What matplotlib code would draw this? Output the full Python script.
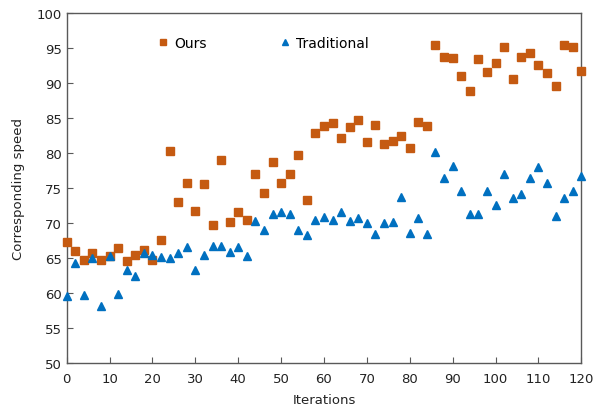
import matplotlib
matplotlib.use("Agg")
import matplotlib.pyplot as plt
import numpy as np

iterations = list(range(0, 121, 2))
ours = [67.3, 66.0, 64.8, 65.7, 64.7, 65.4, 66.5, 64.6, 65.5, 66.2,
        64.7, 67.6, 80.3, 73.1, 75.8, 71.7, 75.6, 69.7, 79.0, 70.2,
        71.6, 70.5, 77.0, 74.3, 78.8, 75.7, 77.1, 79.7, 73.3, 82.9,
        83.9, 84.3, 82.2, 83.8, 84.7, 81.6, 84.0, 81.3, 81.8, 82.5,
        80.8, 84.4, 83.9, 95.5, 93.7, 93.6, 91.0, 88.9, 93.5, 91.6,
        92.9, 95.1, 90.6, 93.7, 94.3, 92.6, 91.5, 89.6, 95.5, 95.1,
        91.7]
traditional = [59.7, 64.4, 59.8, 65.0, 58.2, 65.3, 59.9, 63.4, 62.5, 65.8,
               65.5, 65.2, 65.0, 65.7, 66.6, 63.3, 65.5, 66.8, 66.8, 65.9,
               66.6, 65.4, 70.3, 69.1, 71.4, 71.6, 71.3, 69.0, 68.4, 70.5,
               70.9, 70.5, 71.6, 70.4, 70.8, 70.1, 68.5, 70.1, 70.2, 73.7,
               68.6, 70.7, 68.5, 80.2, 76.4, 78.2, 74.6, 71.4, 71.4, 74.6,
               72.6, 77.0, 73.6, 74.2, 76.4, 78.0, 75.7, 71.0, 73.6, 74.6,
               76.8]
x_ticks = list(range(0, 121, 10))
y_ticks = list(range(50, 101, 5))

plt.rcParams['font.family'] = ['DejaVu Sans']
fig = plt.figure(figsize=(5.94, 4.14), dpi=100)
ax = fig.add_axes([0.1123, 0.1196, 0.8663, 0.8464])

ax.plot(iterations, ours, linestyle='none', marker='s', markersize=5.2,
        color='#C55A11', label='Ours', clip_on=False, zorder=3)
ax.plot(iterations, traditional, linestyle='none', marker='^', markersize=5.5,
        color='#0070C0', label='Traditional', clip_on=False, zorder=3)

ax.set_xlim(0, 120)
ax.set_ylim(50, 100)
ax.set_xticks(x_ticks)
ax.set_yticks(y_ticks)
ax.tick_params(direction='in', length=4, width=0.8, color='#595959',
               labelsize=9.5, labelcolor='#222222')
ax.tick_params(axis='x', pad=6)
for s in ax.spines.values():
    s.set_color('#595959')
    s.set_linewidth(1.0)

ax.set_xlabel('Iterations', fontsize=9.5, color='#222222', labelpad=6)
ax.set_ylabel('Corresponding speed', fontsize=9.5, color='#222222', labelpad=8)

ax.legend(loc='center', bbox_to_anchor=(0.383, 0.916), ncol=2, frameon=False,
          fontsize=10, handlelength=0.7, handletextpad=0.45,
          columnspacing=5.3, markerscale=0.85)

fig.savefig('out.png', dpi=100)
